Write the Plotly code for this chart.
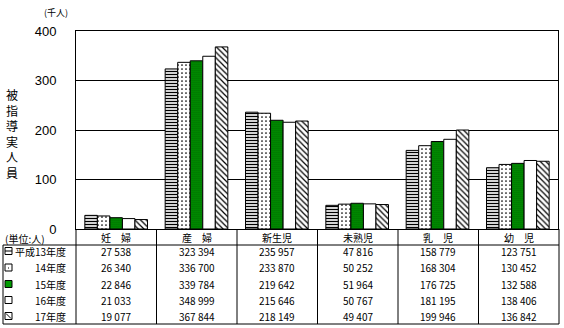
import plotly.graph_objects as go

categories = ["妊　婦", "産　婦", "新生児", "未熟児", "乳　児", "幼　児"]
series_names = ["平成13年度", "14年度", "15年度", "16年度", "17年度"]
v13 = [27538, 323394, 235957, 47816, 158779, 123751]
v14 = [26340, 336700, 233870, 50252, 168304, 130452]
v15 = [22846, 339784, 219642, 51964, 176725, 132588]
v16 = [21033, 348999, 215646, 50767, 181195, 138406]
v17 = [19077, 367844, 218149, 49407, 199946, 136842]
series_values = [v13, v14, v15, v16, v17]
y_ticks = [0, 100, 200, 300, 400]

W, H = 564, 328
FONT = "Noto Sans CJK JP"


def px(x):
    return x / W


def py(y):
    return 1 - y / H


# plot frame in pixels
L, R, T, B = 76, 558, 31, 229

patterns = [
    dict(shape="-", fgcolor="black", bgcolor="white", size=3, solidity=0.45),
    dict(shape=".", fgcolor="black", bgcolor="white", size=4, solidity=0.15),
    dict(shape=".", fgcolor="#003300", bgcolor="#009a00", size=2, solidity=0.3),
    dict(shape="", fgcolor="black", bgcolor="white"),
    dict(shape="\\", fgcolor="black", bgcolor="white", size=4, solidity=0.3),
]

fig = go.Figure()
for name, vals, pat in zip(series_names, series_values, patterns):
    fig.add_trace(go.Bar(
        x=list(range(len(categories))),
        y=[v / 1000 for v in vals],
        name=name,
        marker=dict(color=pat["bgcolor"], pattern=pat,
                    line=dict(color="black", width=1)),
        showlegend=False,
    ))

shapes = []
annotations = []


def line(x0, y0, x1, y1, w=1):
    shapes.append(dict(type="line", xref="paper", yref="paper",
                       x0=px(x0), y0=py(y0), x1=px(x1), y1=py(y1),
                       line=dict(color="black", width=w)))


def text(x, y, s, size=10, anchor="center"):
    annotations.append(dict(x=px(x), y=py(y), xref="paper", yref="paper",
                            text=s, showarrow=False, xanchor=anchor,
                            yanchor="middle",
                            font=dict(family=FONT, size=size, color="black")))


# table grid
TR = 559
TB = 324
HB = 245
ncat = len(categories)
colw = (TR - L) / ncat
for k in range(ncat + 1):
    xk = L + k * colw
    line(xk, B, xk, TB)
line(3, HB, TR, HB)
line(3, TB, TR, TB)
line(3, HB, 3, TB)

row_y = [251, 267.5, 284, 300, 316]

# header row and values
for k, cat in enumerate(categories):
    cx = L + (k + 0.5) * colw
    text(cx, 237, cat, size=10)
    for r, vals in enumerate(series_values):
        v = vals[k]
        s = f"{v // 1000} {v % 1000:03d}" if v >= 1000 else str(v)
        text(cx, row_y[r], s, size=10)

# legend column
for r, name in enumerate(series_names):
    text(68, row_y[r], name, size=10, anchor="right")
    y = row_y[r]
    x0, x1, y0, y1 = 5, 12, y - 3.5, y + 3.5
    fill = "#009a00" if r == 2 else "white"
    shapes.append(dict(type="rect", xref="paper", yref="paper",
                       x0=px(x0), x1=px(x1), y0=py(y1), y1=py(y0),
                       fillcolor=fill, line=dict(color="black", width=1)))
    if r == 0:
        line(x0, y, x1, y)
    elif r == 1:
        shapes.append(dict(type="rect", xref="paper", yref="paper",
                           x0=px(8), x1=px(9), y0=py(y + 1), y1=py(y),
                           fillcolor="black", line=dict(width=0)))
    elif r == 4:
        line(x0 + 1, y0 + 1, x1 - 1, y1 - 1)

text(3, 238, "(単位:人)", size=10, anchor="left")
text(56, 12, "(千人)", size=9)
text(12, 133, "被<br>指<br>導<br>実<br>人<br>員", size=12)

fig.update_layout(
    template="none",
    autosize=False,
    width=W, height=H,
    margin=dict(l=0, r=0, t=0, b=0, pad=0, autoexpand=False),
    paper_bgcolor="white", plot_bgcolor="white",
    barmode="group", bargap=0.22, bargroupgap=0,
    shapes=shapes, annotations=annotations,
    font=dict(family=FONT, color="black"),
    xaxis=dict(domain=[px(L), px(R)], range=[-0.5, ncat - 0.5],
               showticklabels=False, showgrid=False, zeroline=False,
               showline=True, linecolor="black", linewidth=1, mirror=True,
               ticks="", automargin=False),
    yaxis=dict(domain=[py(B), py(T)], range=[0, 400], tickvals=y_ticks,
               showgrid=True, gridcolor="black", gridwidth=1,
               zeroline=False, showline=True, linecolor="black",
               linewidth=1, mirror=True, ticks="", automargin=False,
               ticklabelstandoff=16,
               tickfont=dict(family="Liberation Sans", size=13,
                             color="black")),
)

fig.write_html("out.html")
